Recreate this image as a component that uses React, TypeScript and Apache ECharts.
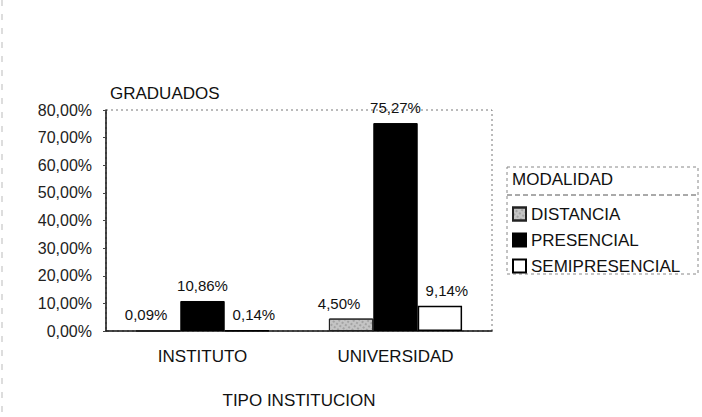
import React, { useEffect, useRef } from "react";
import * as echarts from "echarts";

const categories = ["INSTITUTO", "UNIVERSIDAD"];
const distancia = [0.09, 4.5];
const presencial = [10.86, 75.27];
const semipresencial = [0.14, 9.14];
const yTicks = [0, 10, 20, 30, 40, 50, 60, 70, 80];

const fmt = (v: number) => v.toFixed(2).replace(".", ",") + "%";

export default function App() {
  const ref = useRef<HTMLDivElement>(null);
  useEffect(() => {
    document.body.style.margin = "0";
    const chart = echarts.init(ref.current!, undefined, { renderer: "svg" });
    const font = "Liberation Sans, Arial, sans-serif";
    const label = (offset: number[]) => ({
      show: true,
      position: "top" as const,
      distance: 8,
      offset,
      fontSize: 15,
      color: "#111",
      fontFamily: font,
      formatter: (p: any) => fmt(p.value),
    });
    chart.setOption({
      animation: false,
      backgroundColor: "#fff",
      textStyle: { fontFamily: font },
      grid: {
        left: 106,
        right: 210,
        top: 110,
        bottom: 86,
        show: true,
        borderColor: "#777",
        borderWidth: 1,
        borderType: [2, 3],
      },
      xAxis: {
        type: "category",
        data: categories,
        axisLine: { lineStyle: { color: "#111", width: 1.5 } },
        axisTick: { show: false },
        axisLabel: { fontSize: 17, color: "#111", margin: 17, fontFamily: font },
        name: "TIPO INSTITUCION",
        nameLocation: "middle",
        nameGap: 61,
        nameTextStyle: { fontSize: 17, color: "#111", fontFamily: font },
      },
      yAxis: {
        type: "value",
        min: yTicks[0],
        max: yTicks[yTicks.length - 1],
        interval: 10,
        axisLine: { show: true, lineStyle: { color: "#111", width: 1.5 } },
        axisTick: { show: true, length: 3, lineStyle: { color: "#444" } },
        splitLine: { show: false },
        axisLabel: {
          fontSize: 16,
          color: "#222",
          margin: 14,
          fontFamily: font,
          formatter: (v: number) => fmt(v),
        },
      },
      legend: {
        orient: "vertical",
        left: 507,
        top: 199,
        icon: "rect",
        itemWidth: 13,
        itemHeight: 13,
        itemGap: 6,
        textStyle: {
          fontSize: 17,
          lineHeight: 20,
          color: "#111",
          fontFamily: font,
        },
        data: ["DISTANCIA", "PRESENCIAL", "SEMIPRESENCIAL"],
      },
      graphic: [
        {
          type: "text",
          left: 110,
          top: 85,
          style: { text: "GRADUADOS", fontSize: 17, fill: "#111", fontFamily: font },
        },
        {
          type: "rect",
          shape: { x: 507, y: 167, width: 191, height: 107 },
          style: { fill: "none", stroke: "#888", lineDash: [3, 3], lineWidth: 1 },
        },
        {
          type: "line",
          shape: { x1: 507, y1: 195, x2: 698, y2: 195 },
          style: { stroke: "#555", lineDash: [5, 3], lineWidth: 1 },
        },
        {
          type: "line",
          shape: { x1: 2, y1: 0, x2: 2, y2: 417 },
          style: { stroke: "#bbb", lineDash: [6, 8], lineWidth: 1 },
        },
        {
          type: "text",
          left: 512,
          top: 171,
          style: { text: "MODALIDAD", fontSize: 17, fill: "#111", fontFamily: font },
        },
      ],
      series: [
        {
          name: "DISTANCIA",
          type: "bar",
          data: distancia,
          barGap: "0%",
          barCategoryGap: "31%",
          itemStyle: {
            color: "#c4c4c4",
            borderColor: "#222",
            borderWidth: 1,
            decal: {
              symbol: "rect",
              symbolSize: 0.6,
              color: "#555",
              dashArrayX: [2, 2],
              dashArrayY: [2, 2],
              rotation: 0.6,
            },
          },
          label: label([-12, 0]),
        },
        {
          name: "PRESENCIAL",
          type: "bar",
          data: presencial,
          itemStyle: { color: "#000", borderColor: "#000", borderWidth: 1 },
          label: label([0, 0]),
        },
        {
          name: "SEMIPRESENCIAL",
          type: "bar",
          data: semipresencial,
          itemStyle: { color: "#fff", borderColor: "#000", borderWidth: 1.5 },
          label: label([7, 0]),
        },
      ],
    });
    return () => chart.dispose();
  }, []);
  return <div ref={ref} style={{ width: 702, height: 417 }} />;
}
